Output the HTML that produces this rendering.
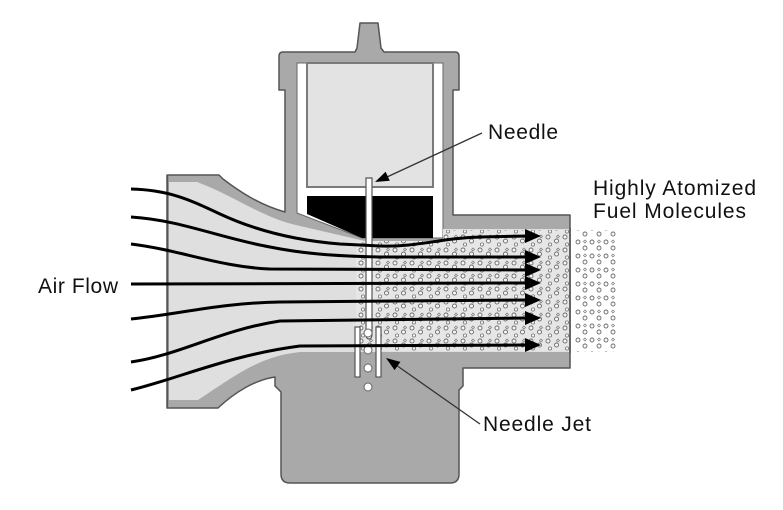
<!DOCTYPE html>
<html>
<head>
<meta charset="utf-8">
<style>
  html,body{margin:0;padding:0;background:#fff;}
  svg{display:block;}
  text{font-family:"Liberation Sans", Arial, sans-serif; font-size:21px; fill:#111;}
</style>
</head>
<body>
<svg width="783" height="510" viewBox="0 0 783 510" xmlns="http://www.w3.org/2000/svg">
  <defs>
    <pattern id="d1" width="17" height="13" patternUnits="userSpaceOnUse">
      <rect width="17" height="13" fill="#e6e6e6"/>
      <circle cx="4" cy="3" r="2" fill="#f7f7f7" stroke="#6a6a6a" stroke-width="0.9"/>
      <circle cx="12.5" cy="7" r="2" fill="#f7f7f7" stroke="#6a6a6a" stroke-width="0.9"/>
      <circle cx="6" cy="10.5" r="1.6" fill="#f7f7f7" stroke="#777" stroke-width="0.8"/>
      <path d="M14,1 l1.5,1.5 l-1.5,1.5 l-1.5,-1.5z" fill="none" stroke="#777" stroke-width="0.7"/>
    </pattern>
    <pattern id="d2" width="14" height="14" patternUnits="userSpaceOnUse">
      <circle cx="4" cy="4" r="2" fill="#fafafa" stroke="#6a6a6a" stroke-width="0.9"/>
      <circle cx="11" cy="10" r="2" fill="#fafafa" stroke="#6a6a6a" stroke-width="0.9"/>
      <path d="M11,2 l1.5,1.5 l-1.5,1.5 l-1.5,-1.5z" fill="none" stroke="#777" stroke-width="0.7"/>
    </pattern>
  </defs>

  <!-- Main body -->
  <path d="M360,23 H378 L381,48 L384,52 H455 Q459,52 459,56 V90 H453 V215 H570 V368 H463 V386 L459,390 V474 Q459,483 450,483 H290 Q281,483 281,474 V392 L275,386 V377 C255,380 235,392 218,408 H167 V175 H219 L223,179 C240,192 260,205 285,212 V90 H279 V56 Q279,52 283,52 H355 L357,48 Z"
        fill="#a9a9a9" stroke="#555" stroke-width="1.5" stroke-linejoin="round"/>

  <!-- Cap cavity -->
  <path d="M297,63 H443 V238 H362 L297,213 Z" fill="#fff" stroke="#666" stroke-width="1"/>
  <!-- Piston -->
  <rect x="307" y="63" width="126" height="124" fill="#e3e3e3" stroke="#7a7a7a" stroke-width="2"/>
  <!-- Black slide bottom -->
  <path d="M307,196 H433 V238 H362 L307,214 Z" fill="#000"/>

  <!-- Flow passage -->
  <path d="M169,182 H197 C235,196 262,218 300,226 L365,241 H443 V229 H569 V352 H300 C262,356 240,372 198,400 H169 Z" fill="#dfdfdf"/>
  <line x1="167.5" y1="175" x2="167.5" y2="408" stroke="#555" stroke-width="1.5"/>

  <!-- Atomized fuel dots -->
  <path d="M356,241 H443 V230 H569 V351 H356 Z" fill="url(#d1)"/>
  <line x1="570" y1="228" x2="570" y2="353" stroke="#666" stroke-width="2"/>
  <rect x="574" y="230" width="42" height="122" fill="url(#d2)"/>

  <!-- Needle -->
  <path d="M366,178 H372 V334 Q372,339 369,339 Q366,339 366,334 Z" fill="#fff" stroke="#555" stroke-width="1.2"/>
  <!-- Needle jet -->
  <rect x="355" y="327" width="5" height="50" fill="#fff" stroke="#555" stroke-width="1.2"/>
  <rect x="376" y="327" width="5" height="50" fill="#fff" stroke="#555" stroke-width="1.2"/>
  <circle cx="368" cy="333" r="4" fill="#fff" stroke="#666" stroke-width="1"/>
  <circle cx="368" cy="350" r="4" fill="#fff" stroke="#666" stroke-width="1"/>
  <circle cx="368" cy="368" r="4" fill="#fff" stroke="#666" stroke-width="1"/>
  <circle cx="368" cy="387" r="4" fill="#fff" stroke="#666" stroke-width="1"/>

  <!-- Streamlines -->
  <g fill="none" stroke="#000" stroke-width="3" stroke-linecap="butt">
    <path d="M131,189 C170,190 190,200 220,214 C250,228 290,240 340,244 L380,246 C420,247 440,238 480,237 L528,236"/>
    <path d="M131,217 C180,220 220,238 270,247 C300,253 330,256 380,257 L528,257"/>
    <path d="M131,244 C180,250 220,267 270,269 L528,270"/>
    <path d="M131,284 L528,283"/>
    <path d="M131,319 C180,314 220,303 280,302 L528,300"/>
    <path d="M131,362 C180,355 220,330 280,321 L528,318"/>
    <path d="M131,390 C180,378 230,355 300,346 L528,345"/>
  </g>
  <g fill="#000">
    <polygon points="525,229 541,236 525,243"/>
    <polygon points="525,250 541,257 525,264"/>
    <polygon points="525,263 541,270 525,277"/>
    <polygon points="525,276 541,283 525,290"/>
    <polygon points="525,293 541,300 525,307"/>
    <polygon points="525,311 541,318 525,325"/>
    <polygon points="525,338 541,345 525,352"/>
  </g>

  <!-- Annotation: Needle -->
  <line x1="482" y1="133" x2="387" y2="177" stroke="#333" stroke-width="1.3"/>
  <polygon points="375,182 389.8,180.7 385.6,171.7" fill="#000"/>
  <!-- Annotation: Needle Jet -->
  <line x1="480" y1="424" x2="396" y2="365" stroke="#333" stroke-width="1.3"/>
  <polygon points="386,358 394.6,370.1 400.4,361.9" fill="#000"/>

  <!-- Labels -->
  <text x="488" y="139" textLength="70" lengthAdjust="spacing">Needle</text>
  <text x="593" y="195" textLength="163" lengthAdjust="spacing">Highly Atomized</text>
  <text x="593" y="218" textLength="153" lengthAdjust="spacing">Fuel Molecules</text>
  <text x="38" y="293" textLength="80" lengthAdjust="spacing">Air Flow</text>
  <text x="483" y="431" textLength="108" lengthAdjust="spacing">Needle Jet</text>
</svg>
</body>
</html>
